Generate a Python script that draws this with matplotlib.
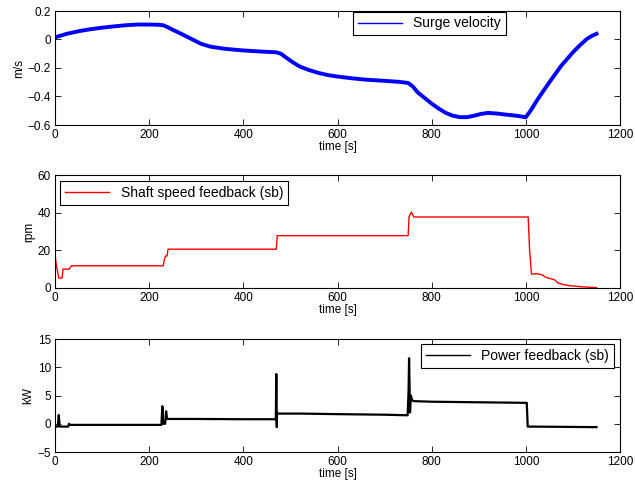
import numpy as np
import matplotlib
matplotlib.use('Agg')
import matplotlib.pyplot as plt

plt.rcParams['font.family'] = ['Liberation Sans', 'DejaVu Sans']
plt.rcParams['font.size'] = 8.5

# surge velocity [m/s]
surge_t = [0, 10, 25, 50, 75, 100, 125, 150, 175, 200, 220, 230, 240, 250,
           265, 280, 295, 310, 330, 360, 400, 440, 470, 480, 490, 505, 520,
           540, 560, 580, 600, 630, 660, 700, 730, 750, 760, 770, 785, 800,
           815, 830, 845, 860, 875, 890, 905, 920, 940, 960, 980, 1000, 1010,
           1025, 1050, 1075, 1100, 1115, 1130, 1140, 1150]
surge_v = [0.015, 0.025, 0.04, 0.058, 0.072, 0.083, 0.092, 0.1, 0.105,
           0.105, 0.103, 0.1, 0.085, 0.068, 0.045, 0.02, -0.005, -0.03,
           -0.05, -0.065, -0.077, -0.085, -0.09, -0.1, -0.125, -0.16, -0.19,
           -0.215, -0.235, -0.25, -0.26, -0.272, -0.282, -0.29, -0.297,
           -0.305, -0.33, -0.37, -0.41, -0.45, -0.485, -0.515, -0.535, -0.545,
           -0.545, -0.535, -0.522, -0.515, -0.52, -0.528, -0.535, -0.545,
           -0.5, -0.42, -0.3, -0.185, -0.09, -0.04, 0.005, 0.025, 0.04]

# shaft speed feedback [rpm]
shaft_t = [0, 3, 8, 15, 17, 30, 35, 230, 232, 235, 238, 240, 470, 472,
           750, 752, 757, 762, 1005, 1008, 1012, 1023, 1035, 1040, 1047, 1060,
           1069, 1080, 1094, 1120, 1150]
shaft_v = [17.5, 12, 5.3, 5.3, 10, 10, 11.8, 11.8, 15, 17, 17, 20.6, 20.6,
           27.8, 27.8, 38, 40.3, 37.7, 37.7, 20, 7.4, 7.6, 7.0, 6.0, 5.3, 4.5,
           2.6, 1.8, 1.2, 0.6, 0.2]

# power feedback [kW]
power_t = [0, 6, 8, 10, 28, 30, 32, 100, 226, 228, 230, 234, 236, 238, 300,
           400, 469, 470, 471, 471.5, 474, 520, 600, 700, 749, 751, 752, 754,
           756, 758, 762, 800, 900, 1000, 1002, 1004, 1080, 1150]
power_v = [-0.5, -0.5, 1.55, -0.5, -0.5, 0.0, -0.2, -0.2, -0.2, 3.1, 0.0,
           0.0, 2.2, 0.85, 0.85, 0.8, 0.8, 8.8, -0.6, 2.0, 1.8, 1.8, 1.7,
           1.6, 1.5, 6.0, 11.6, 2.0, 5.0, 4.2, 4.0, 3.9, 3.8, 3.7, 3.7, -0.5,
           -0.55, -0.6]

fig = plt.figure(figsize=(6.35, 4.86), dpi=100)
W, H = 635.0, 486.0
left, right = 55, 620
boxes = [(11, 125), (175, 288), (339, 452)]
axes = [fig.add_axes([left / W, 1 - b / H, (right - left) / W, (b - t) / H])
        for t, b in boxes]


def style(ax):
    ax.set_xlim(0, 1200)
    ax.set_xticks(range(0, 1201, 200))
    ax.tick_params(direction='in', top=True, right=True, length=4,
                   width=0.6, labelsize=8.5, pad=3)
    for s in ax.spines.values():
        s.set_linewidth(0.8)
    ax.set_xlabel('time [s]', fontsize=8.5, labelpad=0)


def legend(ax, loc, anchor):
    leg = ax.legend(loc=loc, bbox_to_anchor=anchor, borderaxespad=0,
                    fancybox=False, framealpha=1, edgecolor='black',
                    fontsize=10, handlelength=3.2, borderpad=0.35)
    leg.get_frame().set_linewidth(0.8)
    leg.get_lines()[0].set_linewidth(1)


ax = axes[0]
ax.plot(surge_t, surge_v, color='#0000ff', lw=2.8, label='Surge velocity')
ax.set_ylim(-0.6, 0.2)
ax.set_yticks([-0.6, -0.4, -0.2, 0, 0.2])
ax.set_yticklabels(['\u22120.6', '\u22120.4', '\u22120.2', '0', '0.2'])
ax.set_ylabel('m/s', fontsize=8.5, labelpad=2)
style(ax)
legend(ax, 'upper left', (0.527, 0.995))

ax = axes[1]
ax.plot(shaft_t, shaft_v, color='#ff0000', lw=1, label='Shaft speed feedback (sb)')
ax.set_ylim(0, 60)
ax.set_yticks([0, 20, 40, 60])
ax.set_ylabel('rpm', fontsize=8.5, labelpad=2)
style(ax)
legend(ax, 'upper left', (0.009, 0.947))

ax = axes[2]
ax.plot(power_t, power_v, color='black', lw=1.6, label='Power feedback (sb)')
ax.set_ylim(-5, 15)
ax.set_yticks([-5, 0, 5, 10, 15])
ax.set_yticklabels(['\u22125', '0', '5', '10', '15'])
ax.set_ylabel('kW', fontsize=8.5, labelpad=2)
style(ax)
legend(ax, 'upper right', (0.989, 0.956))

fig.savefig('out.png', dpi=100)
